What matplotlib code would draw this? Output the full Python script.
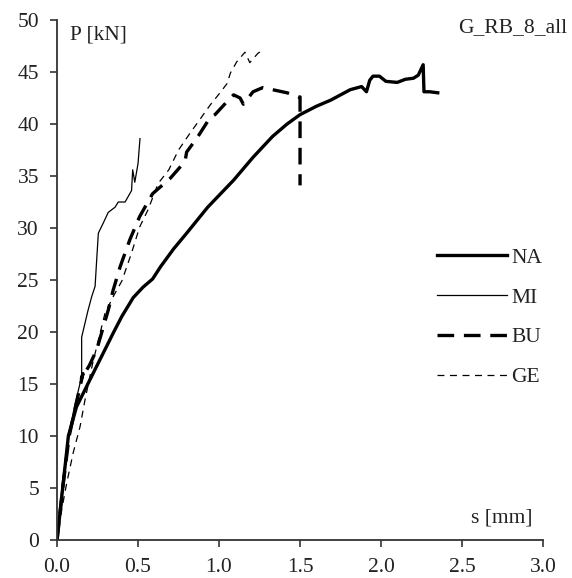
import numpy as np
import matplotlib as mpl
mpl.use("Agg")
import matplotlib.pyplot as plt

plt.rcParams["font.family"] = ["Liberation Serif", "DejaVu Serif"]
plt.rcParams["lines.scale_dashes"] = False

# displacement s [mm] and load P [kN]
s_na = [0.0, 0.035, 0.07, 0.12, 0.19, 0.27, 0.35, 0.40, 0.47, 0.53, 0.59, 0.64,
        0.72, 0.80, 0.93, 1.09, 1.21, 1.33, 1.42, 1.50, 1.60, 1.69, 1.75, 1.81,
        1.88, 1.91, 1.93, 1.95, 1.99, 2.03, 2.10, 2.15, 2.20, 2.23, 2.26, 2.265,
        2.30, 2.35]
p_na = [0.0, 5.0, 10.0, 12.8, 15.0, 17.5, 20.0, 21.5, 23.3, 24.3, 25.1, 26.3,
        28.0, 29.5, 32.0, 34.6, 36.8, 38.8, 40.0, 40.9, 41.7, 42.3, 42.8, 43.3,
        43.6, 43.1, 44.2, 44.6, 44.6, 44.1, 44.0, 44.3, 44.4, 44.7, 45.7, 43.1,
        43.1, 43.0]

s_mi = [0.0, 0.03, 0.07, 0.11, 0.152, 0.152, 0.19, 0.214, 0.235, 0.245, 0.255,
        0.286, 0.316, 0.358, 0.378, 0.42, 0.46, 0.467, 0.48, 0.50, 0.512]
p_mi = [0.0, 5.0, 10.0, 13.0, 15.7, 19.5, 22.0, 23.4, 24.4, 27.0, 29.5,
        30.5, 31.5, 32.0, 32.5, 32.5, 33.6, 35.6, 34.4, 36.2, 38.6]

s_bu = [0.0, 0.035, 0.075, 0.12, 0.16, 0.15, 0.20, 0.245, 0.316, 0.346, 0.39,
        0.45, 0.51, 0.59, 0.70, 0.79, 0.80, 0.87, 0.944, 0.975, 1.07, 1.09,
        1.13, 1.15, 1.21, 1.27, 1.36, 1.42, 1.49, 1.50, 1.50]
p_bu = [0.0, 5.0, 10.0, 13.2, 16.0, 15.5, 16.8, 18.3, 22.1, 24.0, 26.3,
        28.9, 31.1, 33.3, 34.8, 36.4, 37.3, 38.8, 40.6, 40.9, 42.5, 42.8,
        42.5, 41.9, 43.1, 43.5, 43.2, 43.0, 42.6, 42.6, 34.1]

s_ge = [0.0, 0.03, 0.06, 0.10, 0.142, 0.173, 0.22, 0.296, 0.35, 0.40, 0.46,
        0.51, 0.56, 0.625, 0.69, 0.75, 0.82, 0.88, 0.944, 1.006, 1.05, 1.07,
        1.11, 1.16, 1.19, 1.24, 1.26]
p_ge = [0.0, 3.0, 5.5, 8.4, 10.9, 13.5, 17.0, 21.8, 23.5, 24.9, 27.6,
        30.1, 31.7, 34.3, 35.6, 37.5, 39.1, 40.4, 41.8, 43.0, 43.9, 44.9,
        46.0, 46.9, 45.9, 46.8, 47.0]

labels = ["NA", "MI", "BU", "GE"]

fs = 15.5
ink = "#222222"

fig = plt.figure(figsize=(5.72, 5.78), dpi=100)
ax = fig.add_axes([0.0997, 0.0657, 0.8497, 0.8997])

ax.plot(s_na, p_na, color="black", linewidth=2.4, linestyle="solid", label=labels[0])
ax.plot(s_mi, p_mi, color="black", linewidth=0.9, linestyle="solid", label=labels[1])
ax.plot(s_bu, p_bu, color="black", linewidth=2.4, dashes=(12, 7), label=labels[2])
ax.plot(s_ge, p_ge, color="black", linewidth=0.9, dashes=(5, 4), label=labels[3])

ax.set_xlim(0.0, 3.0)
ax.set_ylim(0.0, 50.0)
ax.set_xticks(np.arange(0.0, 3.01, 0.5))
ax.set_xticklabels(["%.1f" % v for v in np.arange(0.0, 3.01, 0.5)])
ax.set_yticks(np.arange(0, 51, 5))

for side in ("top", "right"):
    ax.spines[side].set_visible(False)
for side in ("left", "bottom"):
    ax.spines[side].set_linewidth(1.3)
    ax.spines[side].set_color("#333333")
ax.tick_params(direction="out", length=5, width=1.2, color="#333333",
               labelsize=fs, labelcolor=ink)
ax.tick_params(axis="y", pad=8)
ax.tick_params(axis="x", pad=8)

ax.text(0.027, 0.971, "P [kN]", transform=ax.transAxes, fontsize=fs,
        ha="left", va="center", color=ink)
ax.text(0.979, 0.042, "s [mm]", transform=ax.transAxes, fontsize=fs,
        ha="right", va="center", color=ink)
fig.text(0.991, 0.953, "G_RB_8_all", fontsize=fs, ha="right", va="center",
         color=ink)

legend = ax.legend(loc="center left", bbox_to_anchor=(0.782, 0.428),
                   frameon=False, fontsize=fs, handlelength=3.25,
                   handletextpad=0.2, labelspacing=0.92, borderpad=0,
                   borderaxespad=0)
for t in legend.get_texts():
    t.set_color(ink)

fig.savefig("out.png", dpi=100)
